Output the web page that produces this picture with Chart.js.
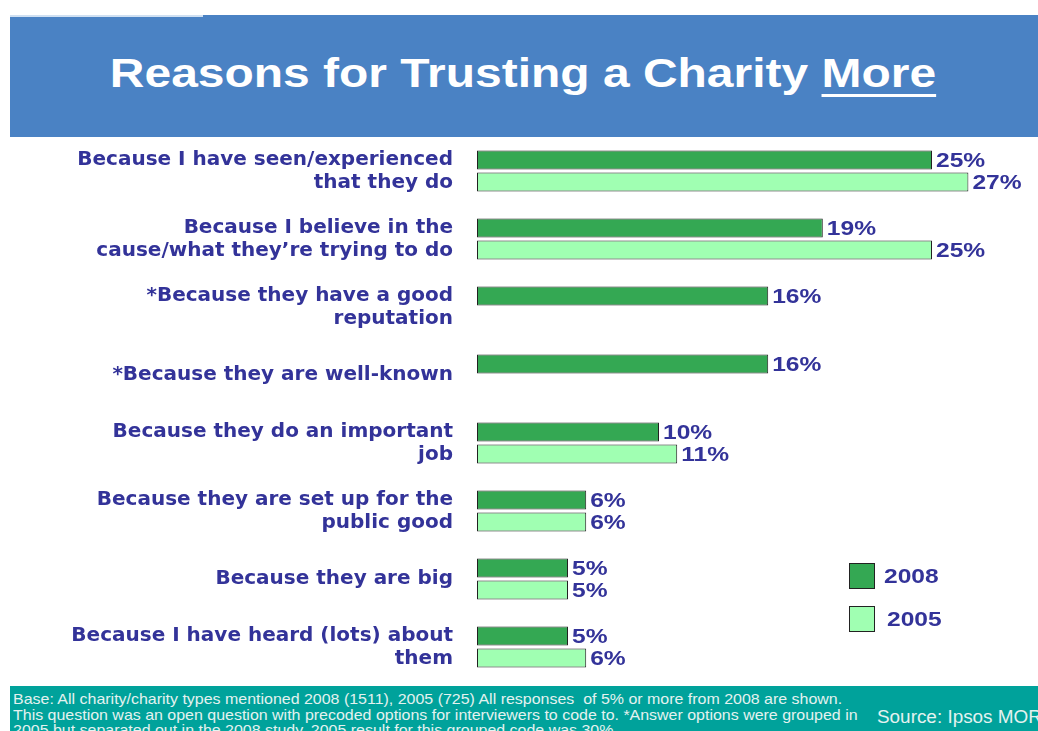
<!DOCTYPE html>
<html>
<head>
<meta charset="utf-8">
<script src="https://cdn.jsdelivr.net/npm/chart.js@4"></script>
<style>
  body { margin: 0; width: 1038px; height: 731px; background: #fff; position: relative; overflow: hidden; font-family: "Liberation Sans", Arial, sans-serif; }
  #banner { position: absolute; left: 10px; top: 15px; width: 1028px; height: 122px; background: #4a82c4; }
  #banner .line { position: absolute; left: 0; top: 0; width: 193px; height: 2px; background: #cfe0f2; }
  #banner h1 { margin: 0; position: absolute; left: 0; right: 0; top: 38px; text-align: center; color: #fff; font-size: 41px; font-weight: bold; line-height: 41px; transform: scaleX(1.17); transform-origin: 520px 0; white-space: nowrap; }
  #banner h1 u { text-decoration-thickness: 3px; text-underline-offset: 7px; }
  #wrap { position: absolute; left: 0; top: 137px; width: 1038px; height: 549px; }
  #footer { position: absolute; left: 10px; top: 686px; width: 1028px; height: 45px; background: #00a29b; overflow: hidden; color: #e4f2f0; }
  #footer .note { position: absolute; left: 3px; top: 5px; font-size: 15px; line-height: 15.5px; white-space: nowrap; transform: scaleX(1.064); transform-origin: 0 0; }
  #footer .src { position: absolute; left: 867px; top: 22px; font-size: 18px; line-height: 18px; white-space: nowrap; transform: scaleX(1.05); transform-origin: 0 0; }
</style>
</head>
<body>
<div id="banner"><div class="line"></div><h1>Reasons for Trusting a Charity <u>More</u></h1></div>
<div id="wrap"><canvas id="myChart" width="1038" height="549"></canvas></div>
<div id="footer">
  <div class="note">Base: All charity/charity types mentioned 2008 (1511), 2005 (725) All responses&nbsp; of 5% or more from 2008 are shown.<br>This question was an open question with precoded options for interviewers to code to. *Answer options were grouped in<br>2005 but separated out in the 2008 study. 2005 result for this grouped code was 30%.</div>
  <div class="src">Source: Ipsos MORI</div>
</div>
<script>
const reasons = [
    ['Because I have seen/experienced', 'that they do'],
    ['Because I believe in the', 'cause/what they\u2019re trying to do'],
    ['*Because they have a good', 'reputation'],
    '*Because they are well-known',
    ['Because they do an important', 'job'],
    ['Because they are set up for the', 'public good'],
    'Because they are big',
    ['Because I have heard (lots) about', 'them']
];
const values2008 = [25, 19, 16, 16, 10, 6, 5, 5];
const values2005 = [27, 25, null, null, 11, 6, 5, 6];

const labelBlue = '#333399';
const heavyBold = 'bold 21px "Liberation Sans", Arial, sans-serif';
const stretch = 1.17;

// draws text a bit wider, like the original slide
function wideText(ctx, text, x, y) {
    ctx.save();
    ctx.translate(x, y);
    ctx.scale(stretch, 1);
    ctx.fillText(text, 0, 0);
    ctx.restore();
}

// value labels at the end of each bar
const valueLabels = {
    id: 'valueLabels',
    afterDatasetsDraw(chart) {
        const ctx = chart.ctx;
        ctx.save();
        ctx.fillStyle = labelBlue;
        ctx.font = heavyBold;
        ctx.textAlign = 'left';
        ctx.textBaseline = 'middle';
        chart.data.datasets.forEach((ds, i) => {
            chart.getDatasetMeta(i).data.forEach((bar, j) => {
                if (ds.data[j] == null) return;
                wideText(ctx, ds.data[j] + '%', bar.x + 4, bar.y + 1);
            });
        });
        ctx.restore();
    }
};

// legend boxes down in the lower right
const sideLegend = {
    id: 'sideLegend',
    afterDraw(chart) {
        const ctx = chart.ctx;
        ctx.save();
        ctx.font = heavyBold;
        ctx.textBaseline = 'middle';
        chart.data.datasets.forEach((ds, i) => {
            const y = 426 + i * 43;
            ctx.fillStyle = ds.backgroundColor;
            ctx.fillRect(849, y, 26, 26);
            ctx.strokeStyle = '#222';
            ctx.lineWidth = 1;
            ctx.strokeRect(849.5, y + 0.5, 25, 25);
            ctx.fillStyle = labelBlue;
            wideText(ctx, ds.label, 884 + i * 3, y + 14);
        });
        ctx.restore();
    }
};

const data = {
    labels: reasons,
    datasets: [{
        label: '2008',
        data: values2008,
        backgroundColor: '#34a853',
        borderColor: '#222',
        borderWidth: 1,
        borderSkipped: false,
        categoryPercentage: 0.647,
        barPercentage: 0.864
    }, {
        label: '2005',
        data: values2005,
        backgroundColor: '#a0ffb2',
        borderColor: '#222',
        borderWidth: 1,
        borderSkipped: false,
        categoryPercentage: 0.647,
        barPercentage: 0.864
    }]
};

const config = {
    type: 'bar',
    data,
    plugins: [valueLabels, sideLegend],
    options: {
        indexAxis: 'y',
        responsive: false,
        animation: false,
        layout: { padding: { top: 0, bottom: 5, left: 0, right: 15 } },
        scales: {
            x: {
                min: 0,
                max: 30,
                display: false
            },
            y: {
                grid: { display: false },
                border: { display: false },
                ticks: {
                    color: labelBlue,
                    font: { family: '"DejaVu Sans", sans-serif', size: 20, weight: 'bold', lineHeight: 1.15 },
                    padding: 16,
                    autoSkip: false
                },
                afterFit(scale) {
                    scale.width = 477;
                    scale.paddingTop = 0;
                    scale.paddingBottom = 0;
                }
            }
        },
        plugins: {
            legend: { display: false },
            tooltip: { enabled: false }
        }
    }
};

var myChart = new Chart(
    document.getElementById('myChart'),
    config
);
</script>
</body>
</html>
